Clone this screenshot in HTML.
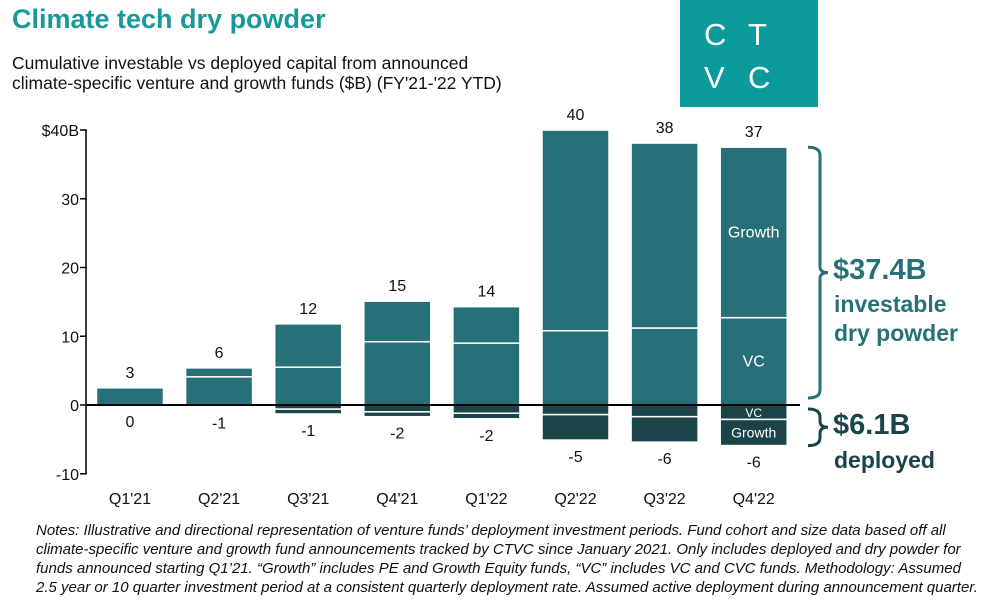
<!DOCTYPE html>
<html><head><meta charset="utf-8"><style>
body{margin:0;width:992px;height:603px;background:#fff;font-family:"Liberation Sans",sans-serif;overflow:hidden;position:relative}
.t{position:absolute;white-space:nowrap}
</style></head><body>
<div class="t" style="left:12px;top:4px;font-size:27px;font-weight:bold;color:#16999a">Climate tech dry powder</div>
<div class="t" style="left:12px;top:53px;font-size:17.5px;line-height:20px;color:#111">Cumulative investable vs deployed capital from announced<br>climate-specific venture and growth funds ($B) (FY'21-'22 YTD)</div>
<div style="position:absolute;left:680px;top:0;width:138px;height:107px;background:#0b9b9b;color:#fff;font-size:31px;">
<span class="t" style="left:24px;top:17px">C</span><span class="t" style="left:68px;top:17px">T</span>
<span class="t" style="left:24px;top:60px">V</span><span class="t" style="left:68px;top:60px">C</span></div>
<svg id="chart" width="992" height="603" style="position:absolute;left:0;top:0" font-family="Liberation Sans, sans-serif"></svg>
<div class="t" style="left:833px;top:254px;font-size:29px;font-weight:bold;color:#287078">$37.4B</div>
<div class="t" style="left:834px;top:290px;font-size:23px;font-weight:bold;color:#287078;line-height:29px">investable<br>dry powder</div>
<div class="t" style="left:833px;top:409px;font-size:29px;font-weight:bold;color:#1b4448">$6.1B</div>
<div class="t" style="left:834px;top:447px;font-size:23px;font-weight:bold;color:#1b4448">deployed</div>
<div class="t" style="left:36px;top:521px;font-size:15px;font-style:italic;line-height:19px;color:#111">Notes: Illustrative and directional representation of venture funds’ deployment investment periods. Fund cohort and size data based off all<br>climate-specific venture and growth fund announcements tracked by CTVC since January 2021. Only includes deployed and dry powder for<br>funds announced starting Q1’21. “Growth” includes PE and Growth Equity funds, “VC” includes VC and CVC funds. Methodology: Assumed<br>2.5 year or 10 quarter investment period at a consistent quarterly deployment rate. Assumed active deployment during announcement quarter.</div>
<script>
const categories=["Q1'21","Q2'21","Q3'21","Q4'21","Q1'22","Q2'22","Q3'22","Q4'22"];
const vcInvestable=[2.5,4.1,5.5,9.2,9.0,10.8,11.2,12.7];
const growthInvestable=[0,1.3,6.3,5.9,5.3,29.2,26.9,24.8];
const vcDeployed=[0,0.25,0.6,1.0,1.2,1.4,1.7,2.1];
const growthDeployed=[0,0,0.7,0.7,0.8,3.7,3.7,3.8];
const topLabels=["3","6","12","15","14","40","38","37"];
const bottomLabels=["0","-1","-1","-2","-2","-5","-6","-6"];
const yTicks=[-10,0,10,20,30,40];
const yTickLabels=["-10","0","10","20","30","$40B"];
const svg=document.getElementById('chart');const NS='http://www.w3.org/2000/svg';
const y=v=>405-v*6.875;
const xc=i=>130+i*89.1;const bw=67;
function mk(t,a,p){const e=document.createElementNS(NS,t);for(const k in a)e.setAttribute(k,a[k]);(p||svg).appendChild(e);return e;}
yTicks.forEach((t,i)=>{
 const l=mk('line',{x1:80,x2:87,y1:y(t),y2:y(t),stroke:'#000','stroke-width':1.5});
 
 
 const tx=mk('text',{x:79,y:y(t)+6,'text-anchor':'end','font-size':16,fill:'#111'});tx.textContent=yTickLabels[i];
 
 
});
const ax=mk('line',{x1:86,x2:86,y1:y(40),y2:y(-10),stroke:'#000','stroke-width':1.5});


categories.forEach((c,i)=>{
 const x0=xc(i)-bw/2;
 const segs=[[0,vcInvestable[i],'#287078','vc-investable'],[vcInvestable[i],vcInvestable[i]+growthInvestable[i],'#287078','growth-investable'],
  [-vcDeployed[i],0,'#1b4448','vc-deployed'],[-vcDeployed[i]-growthDeployed[i],-vcDeployed[i],'#1b4448','growth-deployed']];
 segs.forEach(s=>{
  if(s[1]-s[0]<=0)return;
  const r=mk('rect',{x:x0,y:y(s[1]),width:bw,height:y(s[0])-y(s[1]),fill:s[2],stroke:'#fff','stroke-width':1.5});
  
  
 });
 const tt=mk('text',{x:xc(i),y:y(vcInvestable[i]+growthInvestable[i])-10,'text-anchor':'middle','font-size':16,fill:'#111'});tt.textContent=topLabels[i];
 
 
 const bt=mk('text',{x:xc(i),y:y(-vcDeployed[i]-growthDeployed[i])+22,'text-anchor':'middle','font-size':16,fill:'#111'});bt.textContent=bottomLabels[i];
 
 
 const xl=mk('text',{x:xc(i),y:504,'text-anchor':'middle','font-size':16,fill:'#111'});xl.textContent=c;
 
 
});
const zl=mk('line',{x1:86,x2:800,y1:y(0),y2:y(0),stroke:'#000','stroke-width':2});


const L=categories.length-1;
[['Growth',vcInvestable[L]+growthInvestable[L]/2,16],['VC',vcInvestable[L]/2,16],['VC',-vcDeployed[L]/2,12],['Growth',-vcDeployed[L]-growthDeployed[L]/2,14]].forEach(s=>{
 const t=mk('text',{x:xc(L),y:y(s[1])+5,'text-anchor':'middle','font-size':s[2],fill:'#fff'});t.textContent=s[0];
 
 
});
function brace(t,b,col,name){
 const m=(t+b)/2;
 const p=mk('path',{d:`M808 ${t} Q820 ${t} 820 ${t+8} L820 ${m-6} Q820 ${m} 828 ${m} Q820 ${m} 820 ${m+6} L820 ${b-8} Q820 ${b} 808 ${b}`,fill:'none',stroke:col,'stroke-width':3});
 
 
}
brace(y(vcInvestable[L]+growthInvestable[L]),y(0)-7,'#287078','investable-brace');
brace(y(0)+4,y(-vcDeployed[L]-growthDeployed[L]),'#1b4448','deployed-brace');
</script>
</body></html>
